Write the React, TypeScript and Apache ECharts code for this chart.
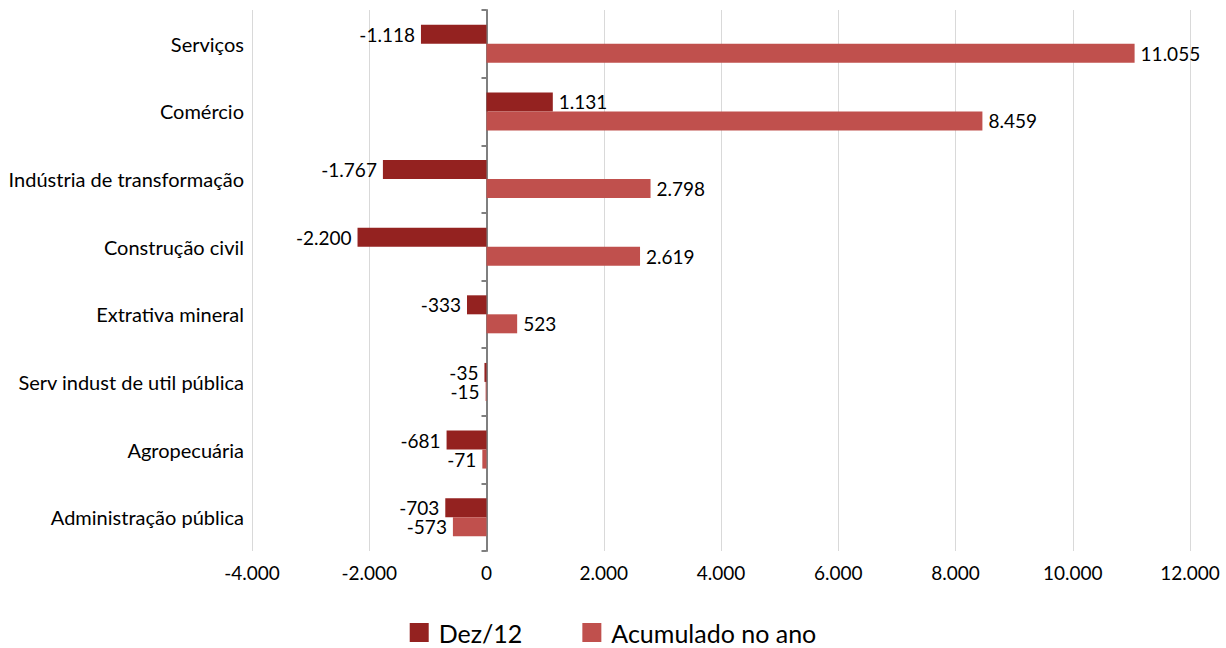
import React, { useEffect, useRef } from "react";
import * as echarts from "echarts";

const categories = [
  "Serviços",
  "Comércio",
  "Indústria de transformação",
  "Construção civil",
  "Extrativa mineral",
  "Serv indust de util pública",
  "Agropecuária",
  "Administração pública",
];
const dez12 = [-1118, 1131, -1767, -2200, -333, -35, -681, -703];
const acumulado = [11055, 8459, 2798, 2619, 523, -15, -71, -573];
const seriesNames = ["Dez/12", "Acumulado no ano"];
const xMin = -4000;
const xMax = 12000;
const xInterval = 2000;

const FONT = "Lato, 'Noto Sans', sans-serif";

function fmt(v: number): string {
  const s = Math.abs(Math.round(v)).toString().replace(/\B(?=(\d{3})+(?!\d))/g, ".");
  return (v < 0 ? "-" : "") + s;
}

function toData(values: number[]) {
  return values.map((v) => ({
    value: v,
    label: { position: v < 0 ? "left" : "right" },
  }));
}

export default function App() {
  const ref = useRef<HTMLDivElement>(null);
  useEffect(() => {
    document.body.style.margin = "0";
    const chart = echarts.init(ref.current!, undefined, { renderer: "svg" });
    const labelStyle = {
      show: true,
      distance: 6,
      color: "#000",
      fontSize: 19,
      fontFamily: FONT,
      formatter: (p: any) => fmt(p.value),
    };
    chart.setOption({
      animation: false,
      textStyle: { fontFamily: FONT },
      grid: {
        left: 252,
        right: 36,
        top: 10,
        bottom: 97,
        containLabel: false,
        outerBoundsMode: "none",
      },
      legend: {
        bottom: -2,
        left: "center",
        itemWidth: 19,
        itemHeight: 19,
        itemGap: 60,
        icon: "rect",
        textStyle: { fontSize: 25, color: "#000", fontFamily: FONT, padding: [0, 0, 0, 5] },
        data: seriesNames,
      },
      xAxis: {
        type: "value",
        min: xMin,
        max: xMax,
        interval: xInterval,
        axisLine: { show: false },
        axisTick: { show: false },
        axisLabel: {
          color: "#000",
          fontSize: 19,
          margin: 12,
          fontFamily: FONT,
          formatter: (v: number) => fmt(v),
        },
        splitLine: { show: true, lineStyle: { color: "#d9d9d9", width: 1 } },
      },
      yAxis: {
        type: "category",
        inverse: true,
        data: categories,
        axisLine: { show: true, onZero: true, lineStyle: { color: "#7f7f7f", width: 2 } },
        axisTick: { show: true, length: 5, lineStyle: { color: "#7f7f7f", width: 2 } },
        axisLabel: {
          color: "#000",
          fontSize: 20,
          margin: 8,
          fontFamily: FONT,
        },
      },
      series: [
        {
          name: seriesNames[0],
          type: "bar",
          data: toData(dez12),
          barWidth: 19,
          barGap: "0%",
          itemStyle: { color: "#942220" },
          label: labelStyle,
        },
        {
          name: seriesNames[1],
          type: "bar",
          data: toData(acumulado),
          barWidth: 19,
          barGap: "0%",
          itemStyle: { color: "#C0504D" },
          label: labelStyle,
        },
      ],
    });
    return () => chart.dispose();
  }, []);
  return <div ref={ref} style={{ width: 1226, height: 648 }} />;
}
